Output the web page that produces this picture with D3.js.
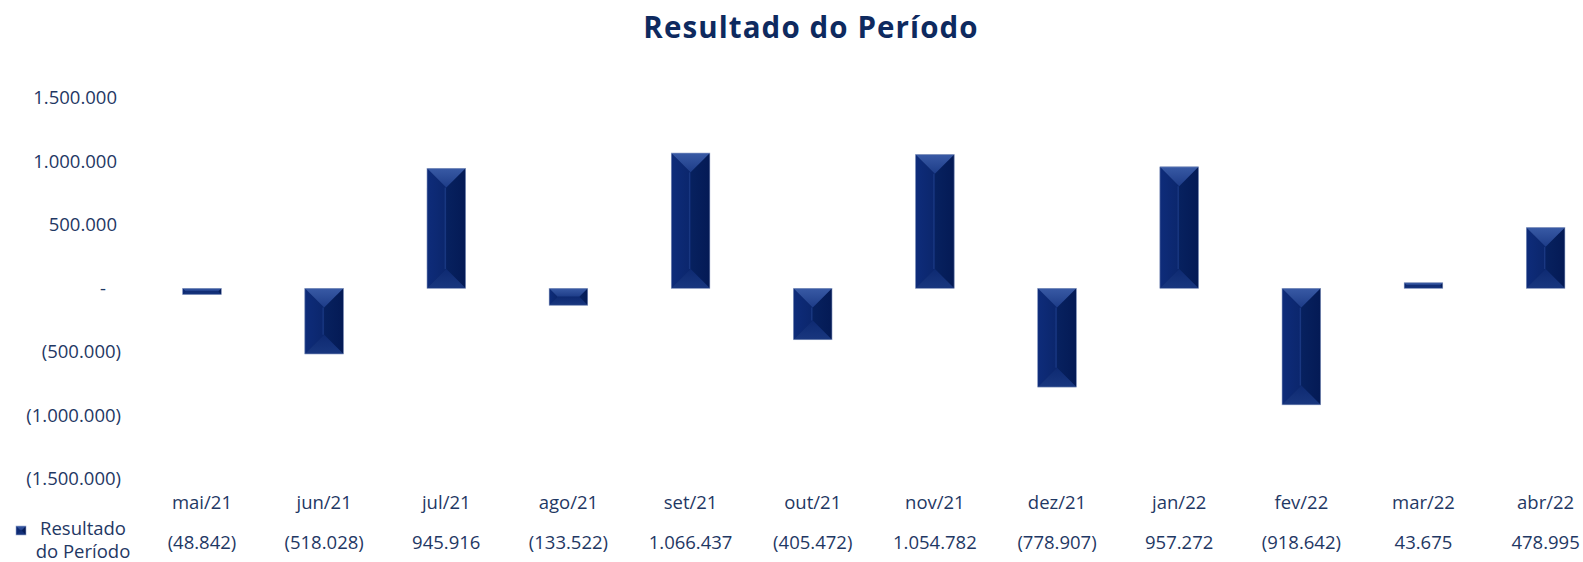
<!DOCTYPE html>
<html>
<head>
<meta charset="utf-8">
<script src="https://cdn.jsdelivr.net/npm/d3@7"></script>
<style>
  body { margin: 0; background: #fff; }
  svg text { font-family: 'Open Sans', sans-serif; }
</style>
</head>
<body>
<div id="chart"></div>
<script>
const months = ['mai/21', 'jun/21', 'jul/21', 'ago/21', 'set/21', 'out/21', 'nov/21', 'dez/21', 'jan/22', 'fev/22', 'mar/22', 'abr/22'];
const resultado = [-48842, -518028, 945916, -133522, 1066437, -405472, 1054782, -778907, 957272, -918642, 43675, 478995];
const yTicks = [-1500000, -1000000, -500000, 0, 500000, 1000000, 1500000];
const seriesName = ['Resultado', 'do Período'];
const chartTitle = 'Resultado do Período';

const W = 1583, H = 562;
const labelColor = '#1f3864';

const svg = d3.select('#chart').append('svg')
  .attr('width', W)
  .attr('height', H);

// pt-BR thousands with dots, negatives in parentheses (Excel accounting style)
const fmtNum = v => {
  const s = d3.format(',')(Math.abs(v)).replace(/,/g, '.');
  return v < 0 ? '(' + s + ')' : s;
};

// Scales
const step = 122.15;
const x = d3.scaleBand()
  .domain(months)
  .range([140.9, 140.9 + step * months.length])
  .paddingInner(0.684)
  .paddingOuter(0.342);
const y = d3.scaleLinear()
  .domain([-1500000, 1500000])
  .range([478.6, 98]);

// Title
svg.append('text')
  .attr('x', 811)
  .attr('y', 38)
  .attr('text-anchor', 'middle')
  .attr('font-size', 29.5)
  .attr('font-weight', 700)
  .attr('letter-spacing', 1.1)
  .attr('fill', '#0e2a5f')
  .text(chartTitle);

// Y axis
const yAxis = d3.axisLeft(y)
  .tickValues(yTicks)
  .tickSize(0)
  .tickPadding(0)
  .tickFormat(v => v === 0 ? '-' : fmtNum(v));
const gy = svg.append('g')
  .attr('transform', 'translate(121,0)')
  .call(yAxis);
gy.select('.domain').remove();
gy.selectAll('text')
  .attr('font-size', 18.5)
  .attr('fill', labelColor)
  .attr('font-family', "'Open Sans', sans-serif")
  .attr('dx', d => d < 0 ? 0 : (d === 0 ? -15 : -4));

// Gradients for the bevel faces
const defs = svg.append('defs');
const grad = (id, c0, c1, vertical) => {
  const g = defs.append('linearGradient').attr('id', id)
    .attr('x1', '0%').attr('y1', '0%')
    .attr('x2', vertical ? '0%' : '100%').attr('y2', vertical ? '100%' : '0%');
  g.append('stop').attr('offset', '0%').attr('stop-color', c0);
  g.append('stop').attr('offset', '100%').attr('stop-color', c1);
};
grad('bevTop', '#395aa5', '#1d3c88', true);
grad('bevBottom', '#0e2a72', '#19377f', true);
grad('bevLeft', '#0e2c7a', '#0b266c', false);
grad('bevRight', '#07215f', '#041a55', false);

// Bars with a pyramid bevel
const drawBevel = (g, x0, y0, w, h) => {
  const d = Math.min(w / 2, h / 2);
  const x1 = x0 + w, y1 = y0 + h;
  const pts = a => a.map(p => p.join(',')).join(' ');
  g.append('rect').attr('x', x0).attr('y', y0).attr('width', w).attr('height', h).attr('fill', '#0a2466');
  g.append('polygon').attr('points', pts([[x0, y0], [x0 + d, y0 + d], [x0 + d, y1 - d], [x0, y1]])).attr('fill', 'url(#bevLeft)');
  g.append('polygon').attr('points', pts([[x1, y0], [x1 - d, y0 + d], [x1 - d, y1 - d], [x1, y1]])).attr('fill', 'url(#bevRight)');
  g.append('polygon').attr('points', pts([[x0, y0], [x1, y0], [x1 - d, y0 + d], [x0 + d, y0 + d]])).attr('fill', 'url(#bevTop)');
  g.append('polygon').attr('points', pts([[x0, y1], [x1, y1], [x1 - d, y1 - d], [x0 + d, y1 - d]])).attr('fill', 'url(#bevBottom)');
  if (h > w) {
    g.append('line')
      .attr('x1', x0 + w / 2 - 1).attr('x2', x0 + w / 2 - 1)
      .attr('y1', y0 + d).attr('y2', y1 - d)
      .attr('stroke', '#1f3f8a').attr('stroke-width', 1.4).attr('opacity', 0.7);
  }
  g.append('rect').attr('x', x0).attr('y', y0).attr('width', w).attr('height', h)
    .attr('fill', 'none').attr('stroke', '#9aa9cc').attr('stroke-width', 0.6);
};

const bars = svg.append('g').attr('class', 'bars');
months.forEach((m, i) => {
  const v = resultado[i];
  const top = y(Math.max(0, v));
  const h = Math.abs(y(v) - y(0));
  drawBevel(bars.append('g'), x(m), top, x.bandwidth(), h);
});

// Category labels
svg.append('g').selectAll('text')
  .data(months)
  .enter()
  .append('text')
  .attr('x', d => x(d) + x.bandwidth() / 2)
  .attr('y', 509)
  .attr('text-anchor', 'middle')
  .attr('font-size', 18.5)
  .attr('fill', labelColor)
  .text(d => d);

// Data table row
svg.append('g').selectAll('text')
  .data(resultado)
  .enter()
  .append('text')
  .attr('x', (d, i) => x(months[i]) + x.bandwidth() / 2)
  .attr('y', 549)
  .attr('text-anchor', 'middle')
  .attr('font-size', 18.5)
  .attr('fill', labelColor)
  .text(d => fmtNum(d));

// Legend key
const key = svg.append('g');
drawBevel(key, 16, 526, 10, 9);
key.selectAll('text.leg')
  .data(seriesName)
  .enter()
  .append('text')
  .attr('class', 'leg')
  .attr('x', 83)
  .attr('y', (d, i) => 535 + i * 23)
  .attr('text-anchor', 'middle')
  .attr('font-size', 18.5)
  .attr('fill', labelColor)
  .text(d => d);
</script>
</body>
</html>
